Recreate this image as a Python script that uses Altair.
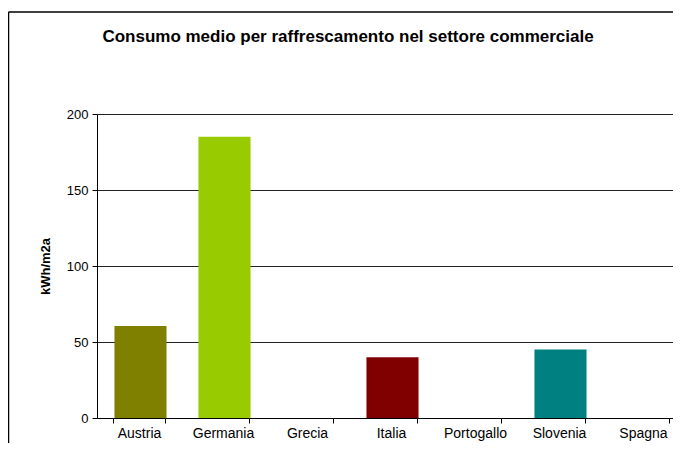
import altair as alt
import pandas as pd

countries = ["Austria", "Germania", "Grecia", "Italia", "Portogallo", "Slovenia", "Spagna"]
values = [60.5, 185, 0, 40, 0, 45, 0]
bar_colors = ["#808000", "#99CC00", "#808080", "#800000", "#808080", "#008080", "#808080"]
y_ticks = [0, 50, 100, 150, 200]
title_text = "Consumo medio per raffrescamento nel settore commerciale"
y_title = "kWh/m2a"

FONT = "Liberation Sans"
PLOT_H = 304

df = pd.DataFrame({"paese": countries, "valore": values})

bars = alt.Chart(df).mark_bar(xOffset=1.5).encode(
    x=alt.X(
        "paese:N",
        sort=countries,
        scale=alt.Scale(paddingInner=0.38, paddingOuter=0.19, range=[0, 588]),
        axis=alt.Axis(
            title=None, labelAngle=0, labelFontSize=14, labelFont=FONT, labelColor="#000",
            tickBand="extent", tickSize=5, tickColor="#000", domainColor="#000",
            labelPadding=3, grid=False,
        ),
    ),
    y=alt.Y(
        "valore:Q",
        scale=alt.Scale(domain=[0, 200], nice=False),
        axis=alt.Axis(
            values=y_ticks, title=y_title, titleFont=FONT, titleFontSize=13, titleFontWeight="bold",
            titleColor="#000", titleX=-52, titleY=PLOT_H / 2, titleBaseline="middle", titleAngle=270,
            labelFont=FONT, labelFontSize=13, labelColor="#000", labelPadding=4,
            tickSize=5, tickColor="#000", domainColor="#000",
            grid=True, gridColor="#222", gridWidth=1,
        ),
    ),
    color=alt.Color("paese:N", scale=alt.Scale(domain=countries, range=bar_colors), legend=None),
)

one = pd.DataFrame({"t": [title_text]})

frame_top = alt.Chart(one).mark_rule(color="#000", strokeWidth=1.5).encode(
    x=alt.value(-88.5), x2=alt.value(700), y=alt.value(-102)
)
frame_left = alt.Chart(one).mark_rule(color="#000", strokeWidth=1.5).encode(
    x=alt.value(-88.5), y=alt.value(-102), y2=alt.value(400)
)

title = alt.Chart(one).mark_text(
    font=FONT, fontSize=17, fontWeight="bold", color="#000", align="center", baseline="middle"
).encode(text="t:N", x=alt.value(251), y=alt.value(-77))

chart = alt.layer(frame_top, frame_left, title, bars).properties(
    width=576,
    height=PLOT_H,
    autosize=alt.AutoSizeParams(type="none"),
    padding={"left": 89, "top": 106, "right": 0, "bottom": 25},
).configure_view(stroke="transparent").configure(background="white")

chart.save("out.html", embed_options={"renderer": "svg", "actions": False})
